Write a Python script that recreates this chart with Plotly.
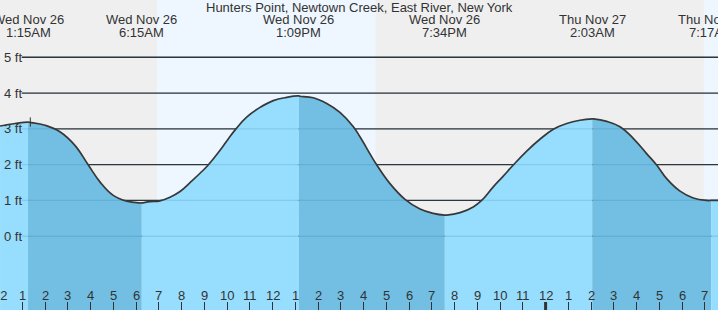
import plotly.graph_objects as go

# ---- data ----
title = "Hunters Point, Newtown Creek, East River, New York"
# tide curve: hours since Wed Nov 26 00:00, height in ft
curve_hours = [0.02, 0.68, 1.34, 2.00, 2.65, 3.31, 3.90, 4.41, 4.98, 5.59, 6.17, 6.61, 7.05,
               7.49, 7.93, 8.37, 8.81, 9.17, 9.69, 10.05, 10.39, 10.86, 11.45, 12.03, 12.62,
               13.20, 13.79, 14.38, 14.96, 15.55, 15.84, 16.58, 17.16, 17.82, 18.48, 19.06,
               19.65, 20.24, 20.82, 21.19, 21.70, 22.14, 22.58, 23.17, 23.75, 24.34, 24.93,
               25.51, 26.10, 26.69, 27.27, 27.86, 28.44, 28.88, 29.32, 29.91, 30.49, 31.08,
               31.58]
curve_ft = [3.08, 3.15, 3.18, 3.10, 2.92, 2.54, 1.99, 1.52, 1.15, 0.98, 0.93, 0.97, 0.99,
            1.09, 1.25, 1.50, 1.76, 1.99, 2.40, 2.72, 3.00, 3.33, 3.60, 3.79, 3.88,
            3.91, 3.87, 3.71, 3.46, 3.06, 2.78, 1.99, 1.47, 1.03, 0.76, 0.64,
            0.59, 0.66, 0.82, 1.00, 1.38, 1.68, 1.99, 2.38, 2.71, 2.99, 3.15,
            3.24, 3.28, 3.21, 3.06, 2.73, 2.31, 1.99, 1.61, 1.26, 1.07, 1.00,
            1.00]
# tide extremes
extreme_hours = [1.25, 6.25, 13.15, 19.57, 26.05, 31.28]
extreme_ft = [3.19, 0.93, 3.92, 0.59, 3.28, 1.00]
extreme_dates = ["Wed Nov 26", "Wed Nov 26", "Wed Nov 26", "Wed Nov 26", "Thu Nov 27", "Thu Nov 27"]
extreme_times = ["1:15AM", "6:15AM", "1:09PM", "7:34PM", "2:03AM", "7:17AM"]
# daylight periods (hours)
day_starts = [6.92, 30.95]
day_ends = [16.52, 40.0]
# axis ticks
tick_hours = list(range(0, 32))
tick_labels = ["12", "1", "2", "3", "4", "5", "6", "7", "8", "9", "10", "11",
               "12", "1", "2", "3", "4", "5", "6", "7", "8", "9", "10", "11",
               "12", "1", "2", "3", "4", "5", "6", "7"]
midnight_hours = [24]
ft_levels = [0, 1, 2, 3, 4, 5]
ft_labels = ["0 ft", "1 ft", "2 ft", "3 ft", "4 ft", "5 ft"]
marker_hour = 1.35

# ---- style ----
X_RANGE = [0.0176, 31.578]
Y_RANGE = [-2.06, 6.60]
LIGHT = "#97DDFE"
DARK = "#72BFE3"
NIGHT_BG = "#EFEFEF"
DAY_BG = "#EEF7FF"
TXT = "#333333"
FONT = "Liberation Sans, Arial, sans-serif"
SMOOTH = 1.2


def to_paper(h):
    return (h - X_RANGE[0]) / (X_RANGE[1] - X_RANGE[0])


pts = sorted(zip(curve_hours + extreme_hours, curve_ft + extreme_ft))
all_h = [p[0] for p in pts]
all_f = [p[1] for p in pts]

fig = go.Figure()

bounds = [X_RANGE[0] - 1] + extreme_hours + [X_RANGE[1] + 1]
for i in range(len(bounds) - 1):
    lo, hi = bounds[i], bounds[i + 1]
    sh = [h for h in all_h if lo <= h <= hi]
    sf = [f for h, f in zip(all_h, all_f) if lo <= h <= hi]
    if not sh:
        continue
    fig.add_trace(go.Scatter(x=[sh[0], sh[-1]], y=[Y_RANGE[0], Y_RANGE[0]], mode="lines",
                             line=dict(width=0), hoverinfo="skip", showlegend=False))
    fig.add_trace(go.Scatter(x=sh, y=sf, mode="lines",
                             line=dict(width=0, shape="spline", smoothing=SMOOTH),
                             fill="tonexty", fillcolor=(DARK if i % 2 == 1 else LIGHT),
                             hoverinfo="skip", showlegend=False))

fig.add_trace(go.Scatter(x=all_h, y=all_f, mode="lines",
                         line=dict(color="#383838", width=1.7, shape="spline", smoothing=SMOOTH),
                         hoverinfo="skip", showlegend=False))

shapes = []
shapes.append(dict(type="rect", xref="paper", yref="paper", x0=0, x1=1, y0=0, y1=1,
                   fillcolor=NIGHT_BG, line=dict(width=0), layer="below"))
for s, e in zip(day_starts, day_ends):
    shapes.append(dict(type="rect", xref="x", yref="paper", x0=s, x1=e, y0=0, y1=1,
                       fillcolor=DAY_BG, line=dict(width=0), layer="below"))
for lv in ft_levels:
    shapes.append(dict(type="line", xref="paper", yref="y", x0=0.0302, x1=1, y0=lv, y1=lv,
                       line=dict(color="#333333", width=1.3), layer="below"))
    shapes.append(dict(type="line", xref="paper", yref="y", x0=0.0302, x1=1, y0=lv, y1=lv,
                       line=dict(color="rgba(0,80,140,0.13)", width=1.3), layer="above"))
for mh in midnight_hours:
    shapes.append(dict(type="line", xref="x", yref="paper", x0=mh, x1=mh, y0=0, y1=8 / 310,
                       line=dict(color="#333333", width=3), layer="above"))
shapes.append(dict(type="line", xref="x", yref="y", x0=marker_hour, x1=marker_hour,
                   y0=extreme_ft[0] - 0.13, y1=extreme_ft[0] + 0.13,
                   line=dict(color="#333333", width=1), layer="above"))

ann = []
ann.append(dict(text=title, xref="paper", yref="paper", x=0.5, y=1 - 7 / 310,
                showarrow=False, xanchor="center", yanchor="middle",
                font=dict(size=13, color=TXT, family=FONT)))
for h, d, t in zip(extreme_hours, extreme_dates, extreme_times):
    ann.append(dict(text=d, xref="paper", yref="paper", x=to_paper(h), y=1 - 19.5 / 310,
                    showarrow=False, xanchor="center", yanchor="middle",
                    font=dict(size=13, color=TXT, family=FONT)))
    ann.append(dict(text=t, xref="paper", yref="paper", x=to_paper(h), y=1 - 32 / 310,
                    showarrow=False, xanchor="center", yanchor="middle",
                    font=dict(size=13, color=TXT, family=FONT)))
for lv, lb in zip(ft_levels, ft_labels):
    ann.append(dict(text=lb, xref="paper", yref="y", x=2 / 718, y=lv, showarrow=False,
                    xanchor="left", yanchor="middle", font=dict(size=13, color=TXT, family=FONT)))
for h, lb in zip(tick_hours, tick_labels):
    ann.append(dict(text=lb, xref="paper", yref="paper", x=to_paper(h), y=(310 - 295.5) / 310,
                    showarrow=False, xanchor="center", yanchor="middle",
                    font=dict(size=13, color=TXT, family=FONT)))

fig.update_layout(
    width=718, height=310, margin=dict(l=0, r=0, t=0, b=0),
    paper_bgcolor=NIGHT_BG, plot_bgcolor="rgba(0,0,0,0)",
    shapes=shapes, annotations=ann, showlegend=False,
    xaxis=dict(range=X_RANGE, showgrid=False, zeroline=False, showline=False,
               tickmode="array", tickvals=tick_hours, ticks="inside", ticklen=8,
               tickcolor="#333333", tickwidth=1, showticklabels=False, fixedrange=True),
    yaxis=dict(range=Y_RANGE, showgrid=False, zeroline=False, showline=False,
               showticklabels=False, ticks="", fixedrange=True),
)

fig.write_html("out.html", include_plotlyjs=True, config={"displayModeBar": False})
